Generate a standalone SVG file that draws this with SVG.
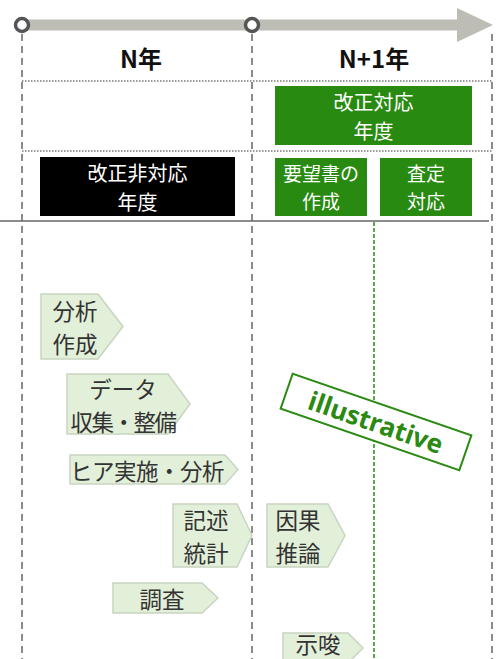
<svg xmlns="http://www.w3.org/2000/svg" width="497" height="659" viewBox="0 0 497 659">
<style>
.jp{font-family:"Noto Sans CJK JP","Noto Sans",sans-serif;}
.hd{font-size:24px;font-weight:bold;fill:#111;text-anchor:middle;}
.bx{font-size:20px;fill:#fff;text-anchor:middle;dominant-baseline:central;}
.sm{font-size:19px;}
.pt{font-size:22.5px;fill:#333;text-anchor:middle;dominant-baseline:central;}
.pent{fill:#e2efd9;stroke:#c9d5c0;stroke-width:1.5;}
.vdash{stroke:#666;stroke-width:1.5;stroke-dasharray:7 5;fill:none;}
.dot{stroke:#777;stroke-width:1.5;stroke-dasharray:1.5 1.5;fill:none;}
.green{fill:#288a10;}
</style>
<rect width="497" height="659" fill="#fff"/>
<g id="connectors">
<line class="vdash" x1="22" y1="34" x2="22" y2="659"/>
<line class="vdash" x1="252" y1="34" x2="252" y2="659"/>
<line class="vdash" x1="492" y1="34" x2="492" y2="659"/>
<line class="dot" x1="22" y1="81" x2="492" y2="81"/>
<line class="dot" x1="22" y1="151" x2="492" y2="151"/>
<line x1="0" y1="221" x2="489" y2="221" stroke="#666" stroke-width="1.5"/>
<line x1="374" y1="222" x2="374" y2="659" stroke="#2a8a12" stroke-width="1.5" stroke-dasharray="4 2"/>
</g>
<g id="timeline">
<rect x="22" y="19.5" width="437" height="11" fill="#bdbdb6"/>
<polygon points="457,8 493,25 457,42" fill="#bdbdb6"/>
<circle cx="22" cy="25" r="6.5" fill="#fff" stroke="#555" stroke-width="3.5"/>
<circle cx="252" cy="25" r="6.5" fill="#fff" stroke="#555" stroke-width="3.5"/>
</g>
<g id="year-n"><text class="jp hd" x="141" y="68">N年</text></g>
<g id="year-n1"><text class="jp hd" x="374" y="68">N+1年</text></g>
<g id="kaisei-taio">
<rect class="green" x="275" y="86" width="197" height="59"/>
<text class="jp bx" x="373.5" y="101">改正対応</text>
<text class="jp bx" x="373.5" y="130">年度</text>
</g>
<g id="kaisei-hitaio">
<rect x="40" y="157" width="195" height="59" fill="#000"/>
<text class="jp bx" x="137.5" y="172">改正非対応</text>
<text class="jp bx" x="137.5" y="201">年度</text>
</g>
<g id="yobosho">
<rect class="green" x="275" y="158" width="92" height="58"/>
<text class="jp bx sm" x="321" y="172.5">要望書の</text>
<text class="jp bx sm" x="321" y="200.5">作成</text>
</g>
<g id="satei">
<rect class="green" x="380" y="158" width="92" height="58"/>
<text class="jp bx sm" x="426" y="172.5">査定</text>
<text class="jp bx sm" x="426" y="200.5">対応</text>
</g>
<g id="bunseki-sakusei">
<polygon class="pent" points="41,294 98,294 123,326.5 98,359 41,359"/>
<text class="jp pt" x="75" y="310">分析</text>
<text class="jp pt" x="75" y="343">作成</text>
</g>
<g id="data-shushu">
<polygon class="pent" points="67,374 168,374 190,404 168,434 67,434"/>
<text class="jp pt" x="123" y="388">データ</text>
<text class="jp pt" x="123" y="421" letter-spacing="-1.5">収集・整備</text>
</g>
<g id="hiya">
<polygon class="pent" points="70,455 225,455 238,469.5 225,484 70,484"/>
<text class="jp pt" x="147" y="469.5" letter-spacing="-0.5">ヒア実施・分析</text>
</g>
<g id="kijutsu">
<polygon class="pent" points="173,504 237,504 252,535.5 237,567 173,567"/>
<text class="jp pt" x="206" y="519">記述</text>
<text class="jp pt" x="206" y="552">統計</text>
</g>
<g id="inga">
<polygon class="pent" points="267,504 328,504 345,535.5 328,567 267,567"/>
<text class="jp pt" x="298" y="519">因果</text>
<text class="jp pt" x="298" y="552">推論</text>
</g>
<g id="chosa">
<polygon class="pent" points="113,583 202,583 218,598 202,613 113,613"/>
<text class="jp pt" x="162" y="598">調査</text>
</g>
<g id="shisa">
<polygon class="pent" points="283,633 348,633 363,648 348,663 283,663"/>
<text class="jp pt" x="318" y="643">示唆</text>
</g>
<g id="illustrative" transform="translate(376,422) rotate(19)">
<rect x="-94.5" y="-18.5" width="189" height="37" fill="#fff" stroke="#2a8a12" stroke-width="2"/>
<text x="0" y="0" font-family="Noto Sans, sans-serif" font-size="26" font-weight="bold" fill="#2a8a12" text-anchor="middle" dominant-baseline="central">illustrative</text>
</g>
</svg>
